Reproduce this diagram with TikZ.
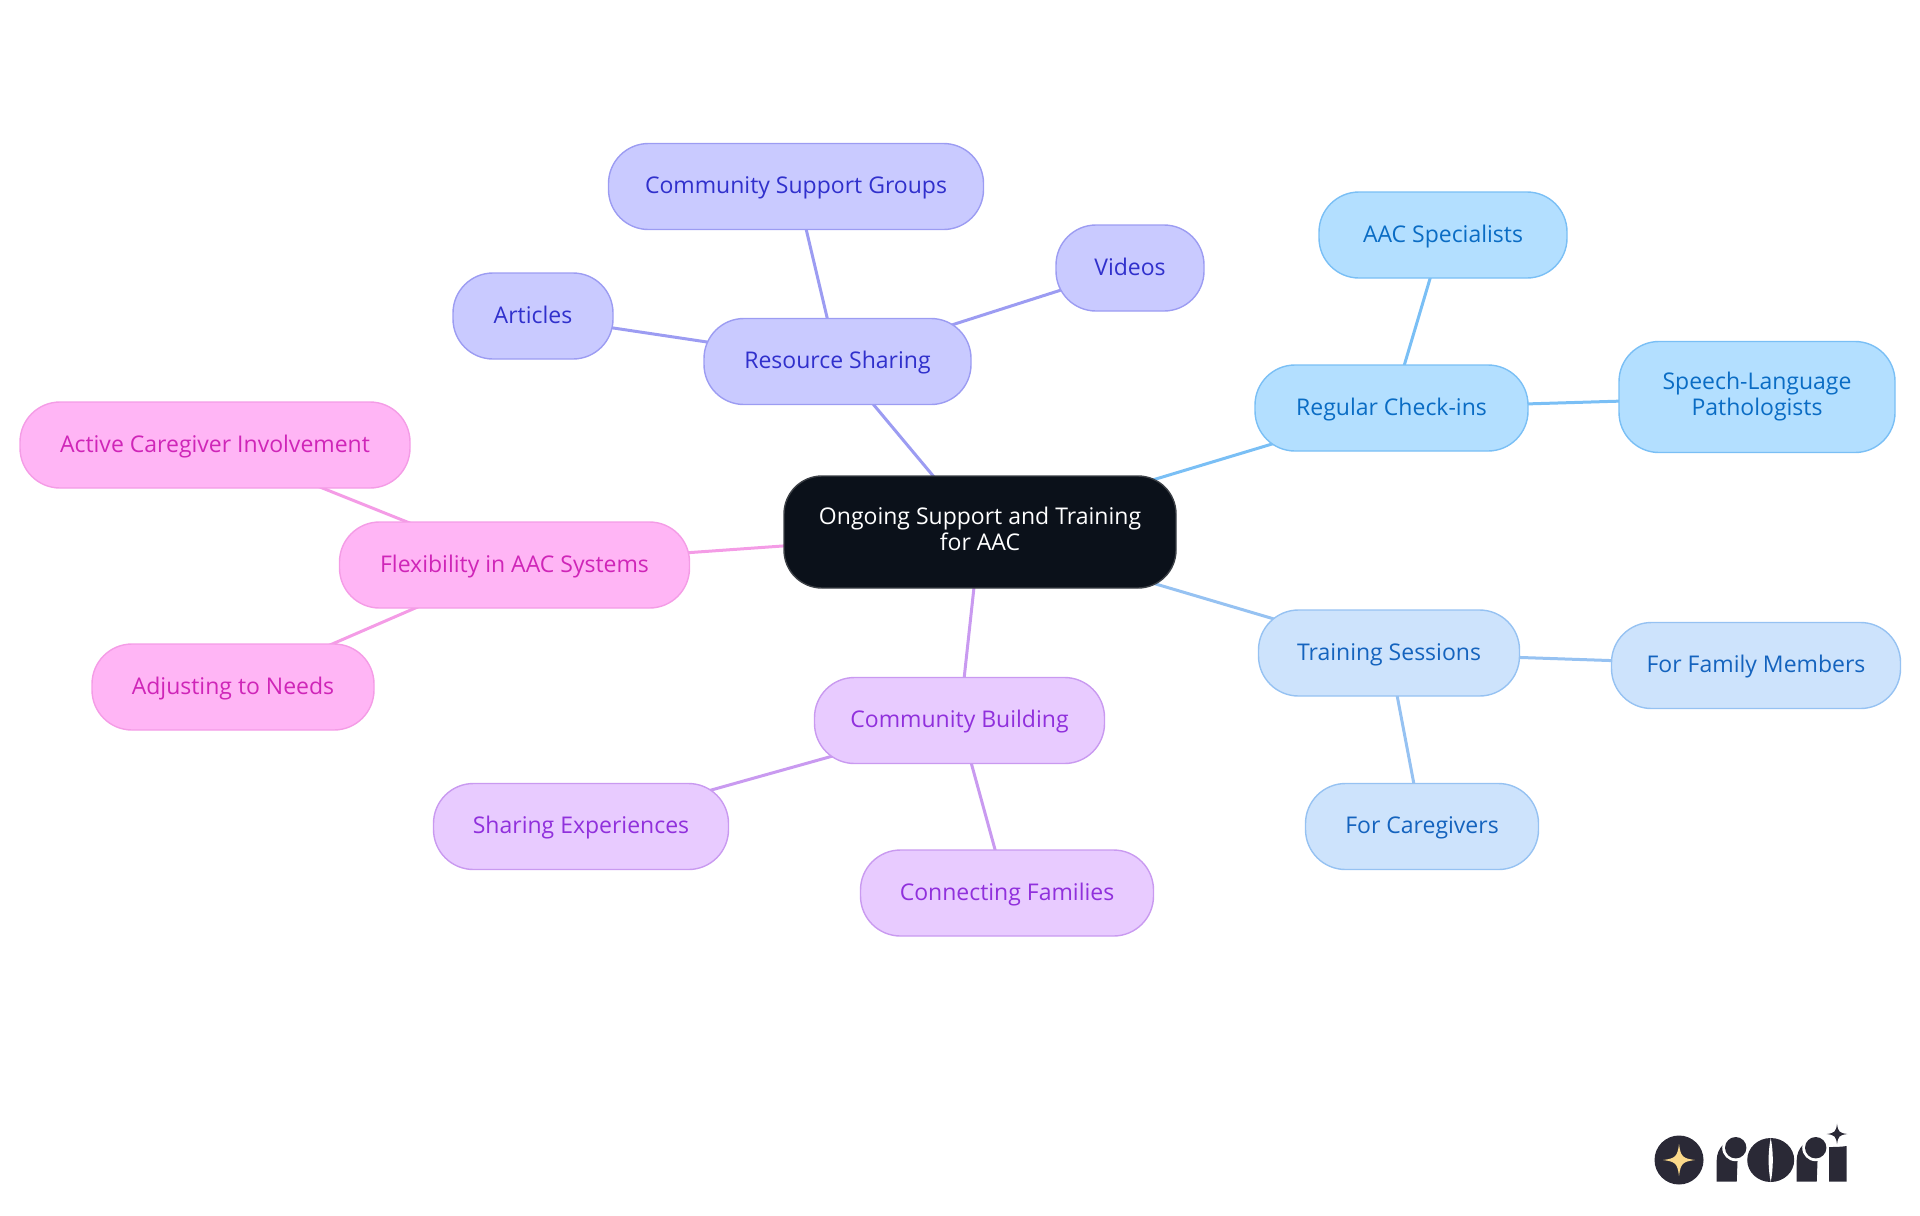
\documentclass[tikz,border=0pt]{standalone}
\usepackage{fontspec}
\setmainfont{Open Sans}
\usetikzlibrary{backgrounds}
\definecolor{rootfill}{HTML}{0B111A}
\definecolor{rootline}{HTML}{3C4046}
\definecolor{checkfill}{HTML}{B3DFFF}
\definecolor{checkline}{HTML}{7ABFF5}
\definecolor{checktext}{HTML}{0A6CC4}
\definecolor{trainfill}{HTML}{CDE3FC}
\definecolor{trainline}{HTML}{96C2F2}
\definecolor{traintext}{HTML}{1463BE}
\definecolor{sharefill}{HTML}{C9CAFF}
\definecolor{shareline}{HTML}{9C9CF2}
\definecolor{sharetext}{HTML}{3030CC}
\definecolor{buildfill}{HTML}{E8CBFF}
\definecolor{buildline}{HTML}{C99AF0}
\definecolor{buildtext}{HTML}{9030DC}
\definecolor{flexfill}{HTML}{FFB5F5}
\definecolor{flexline}{HTML}{F49CE6}
\definecolor{flextext}{HTML}{CF25B8}
\definecolor{logodark}{HTML}{2A2936}
\definecolor{logostar}{HTML}{FBD98A}
\def\nodeh{43pt}
\tikzset{
  node/.style={rectangle,rounded corners=20pt,line width=0.7pt,minimum height=\nodeh,inner sep=0,outer sep=0,align=center,font=\fontsize{11.5}{13}\selectfont,
    execute at begin node={\rule{0pt}{10pt}},execute at end node={\rule[-2.8pt]{0pt}{2.8pt}}},
  node root/.style={node,rounded corners=19pt,draw=rootline,fill=rootfill,text=white},
  node check/.style={node,draw=checkline,fill=checkfill,text=checktext},
  node train/.style={node,draw=trainline,fill=trainfill,text=traintext},
  node share/.style={node,draw=shareline,fill=sharefill,text=sharetext},
  node build/.style={node,draw=buildline,fill=buildfill,text=buildtext},
  node flex/.style={node,draw=flexline,fill=flexfill,text=flextext},
  connect/.style={line width=1.5pt},
  logo star/.pic={
    \fill (-1,0) .. controls (-0.22,-0.1) and (-0.1,-0.22) .. (0,-1)
      .. controls (0.1,-0.22) and (0.22,-0.1) .. (1,0)
      .. controls (0.22,0.1) and (0.1,0.22) .. (0,1)
      .. controls (-0.1,0.22) and (-0.22,0.1) .. (-1,0) -- cycle;
  }
}
\begin{document}
\begin{tikzpicture}[x=0.5pt,y=-0.5pt]
	\useasboundingbox (0,0) rectangle (1920,1215);

	\node[node root, minimum width=196pt, minimum height=56pt] (root) at (980,532) {Ongoing Support and Training\\for AAC};

	\node[node share, minimum width=133.5pt] (share) at (837.5,361.5) {Resource Sharing};
	\node[node share, minimum width=187.5pt] (groups) at (796,186.5) {Community Support Groups};
	\node[node share, minimum width=74pt] (videos) at (1130,268) {Videos};
	\node[node share, minimum width=80pt] (articles) at (533,316) {Articles};

	\node[node check, minimum width=136.5pt] (check) at (1391.5,408) {Regular Check-ins};
	\node[node check, minimum width=124pt] (spec) at (1443,235) {AAC Specialists};
	\node[node check, minimum width=138pt, minimum height=55.5pt] (slp) at (1757,397) {Speech-Language\\Pathologists};

	\node[node train, minimum width=130.5pt] (train) at (1389,653) {Training Sessions};
	\node[node train, minimum width=144.5pt] (family) at (1756,665.5) {For Family Members};
	\node[node train, minimum width=116.5pt] (care) at (1422,826.5) {For Caregivers};

	\node[node build, minimum width=145pt] (build) at (959.5,720.5) {Community Building};
	\node[node build, minimum width=147.5pt] (exper) at (581,826.5) {Sharing Experiences};
	\node[node build, minimum width=146.5pt] (conn) at (1007,893) {Connecting Families};

	\node[node flex, minimum width=175pt] (flex) at (514.5,565) {Flexibility in AAC Systems};
	\node[node flex, minimum width=195pt] (active) at (215,445) {Active Caregiver Involvement};
	\node[node flex, minimum width=141pt] (adjust) at (233,687) {Adjusting to Needs};

	% Connectors
	\begin{pgfonlayer}{background}
		\foreach \source/\dest in {root/share,share/groups,share/videos,share/articles}
		\draw[connect,shareline] (\source.center) -- (\dest.center);
		\foreach \source/\dest in {root/check,check/spec,check/slp}
		\draw[connect,checkline] (\source.center) -- (\dest.center);
		\foreach \source/\dest in {root/train,train/family,train/care}
		\draw[connect,trainline] (\source.center) -- (\dest.center);
		\foreach \source/\dest in {root/build,build/exper,build/conn}
		\draw[connect,buildline] (\source.center) -- (\dest.center);
		\foreach \source/\dest in {root/flex,flex/active,flex/adjust}
		\draw[connect,flexline] (\source.center) -- (\dest.center);
	\end{pgfonlayer}

	% Logo
	\fill[logodark] (1679,1160) circle (24.5);
	\path[logostar] (1679,1160) pic[scale=16] {logo star};
	\foreach \x in {1716.7,1796.7}{
			\fill[logodark] (\x,1181.7) -- (\x,1160) arc[start angle=180,end angle=270,radius=21.7] -- (\x+20,1181.7) -- cycle;
			\fill[white] (\x+19,1147.7) circle (13.5);
			\fill[logodark] (\x+19,1147.7) circle (10.7);
		}
	\fill[logodark] (1770.7,1160) ellipse (23.5 and 22);
	\fill[white] (1770.7,1138) .. controls (1773.5,1152) and (1773.5,1168) .. (1770.7,1182) .. controls (1767.9,1168) and (1767.9,1152) .. (1770.7,1138) -- cycle;
	\fill[logodark] (1829,1181.7) -- (1829,1147) .. controls (1833,1147) and (1841,1147) .. (1846.7,1146) -- (1846.7,1181.7) -- cycle;
	\path[logodark] (1837,1134) pic[scale=10.3] {logo star};
\end{tikzpicture}
\end{document}
